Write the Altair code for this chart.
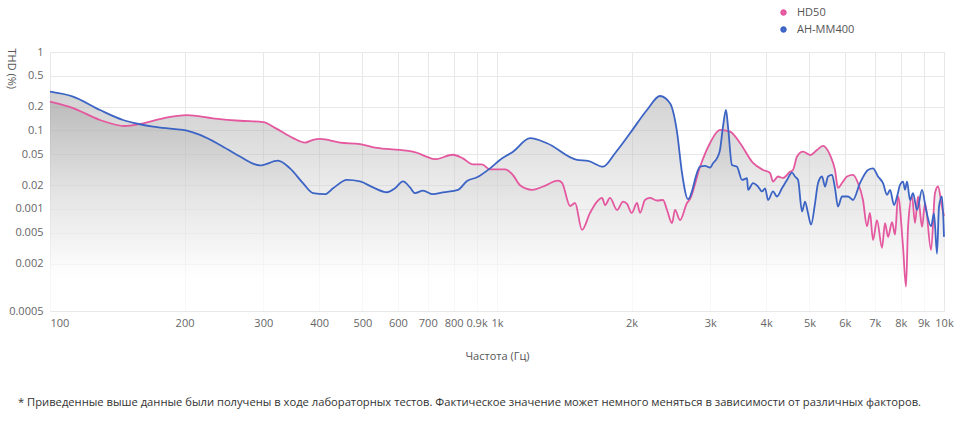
import altair as alt
import pandas as pd

series_names = ["HD50", "AH-MM400"]
series_colors = ["#e4589f", "#3c64c5"]

hd50_freq = [100, 112.6, 129.4, 147, 159, 179, 202.5, 231.5, 266, 300,
             318.7, 349.7, 371.9, 387.6, 401.8, 445.6, 493.9, 539, 606.7, 662,
             697, 726.5, 797, 839, 883, 925, 964.6, 1015, 1042, 1086,
             1126, 1198, 1268, 1369, 1398, 1457, 1495, 1549, 1615, 1674,
             1718, 1745, 1790, 1856, 1914, 1954, 2001, 2057, 2089, 2143,
             2199, 2280, 2352, 2401, 2463, 2502, 2567, 2661, 2703, 2846,
             2997, 3154, 3321, 3496, 3739, 3937, 4081, 4145, 4252, 4363,
             4524, 4594, 4690, 4838, 5015, 5199, 5362, 5559, 5704, 5792,
             5913, 6067, 6257, 6420, 6588, 6725, 6830, 6937, 7081, 7267,
             7380, 7496, 7652, 7771, 7892, 8097, 8222, 8309, 8481, 8613,
             8748, 8931, 9071, 9355, 9548, 9696, 9898, 10000]
hd50_thd = [0.233, 0.193, 0.136, 0.114, 0.121, 0.143, 0.157, 0.143, 0.133, 0.128,
            0.108, 0.080, 0.070, 0.076, 0.078, 0.070, 0.067, 0.060, 0.0565, 0.052,
            0.046, 0.043, 0.049, 0.044, 0.037, 0.037, 0.032, 0.032, 0.032, 0.027,
            0.020, 0.0175, 0.0193, 0.0229, 0.0215, 0.0109, 0.0119, 0.0054, 0.0089, 0.0124,
            0.0138, 0.0112, 0.0138, 0.0097, 0.0124, 0.0116, 0.0089, 0.0119, 0.0089, 0.013,
            0.0138, 0.0128, 0.013, 0.0097, 0.0066, 0.0097, 0.0072, 0.0119, 0.0134, 0.0345,
            0.0693, 0.1015, 0.0967, 0.0693, 0.0385, 0.0314, 0.0287, 0.0223, 0.0259, 0.0248,
            0.0297, 0.0314, 0.0465, 0.0537, 0.0487, 0.0564, 0.0635, 0.0487, 0.0314, 0.0185,
            0.0214, 0.0259, 0.0271, 0.0214, 0.013, 0.006, 0.0089, 0.004, 0.0072, 0.0032,
            0.0066, 0.0044, 0.0068, 0.0047, 0.0144, 0.0033, 0.00102, 0.0059, 0.0144, 0.0066,
            0.0144, 0.0059, 0.0119, 0.003, 0.016, 0.0193, 0.0106, 0.0081]

mm400_freq = [100, 112.6, 129.4, 145.7, 159, 170, 188.4, 202.5, 216.6, 240.1,
              266.1, 295, 323.6, 344.3, 368.1, 387.6, 412.4, 429.7, 461.7, 493.9,
              528, 567.4, 591.3, 616.2, 638.9, 655.5, 683.1, 719.1, 757.1, 817.8,
              856.9, 902.1, 964.6, 1015, 1086, 1186, 1294, 1510, 1598, 1727,
              1837, 1984, 2165, 2316, 2438, 2527, 2594, 2675, 2846, 2920,
              2997, 3043, 3106, 3154, 3203, 3253, 3287, 3355, 3443, 3533,
              3626, 3644, 3739, 3837, 3916, 3979, 4040, 4145, 4230, 4340,
              4454, 4571, 4642, 4715, 4813, 4888, 4964, 5041, 5146, 5226,
              5335, 5418, 5502, 5616, 5704, 5792, 5913, 6099, 6257, 6487,
              6760, 6937, 7118, 7305, 7457, 7573, 7731, 7852, 7974, 8097,
              8181, 8265, 8395, 8525, 8703, 8931, 9118, 9355, 9498, 9646,
              9746, 9898, 10000]
mm400_thd = [0.312, 0.27, 0.182, 0.136, 0.12, 0.112, 0.1045, 0.0995, 0.0877, 0.0654,
             0.0465, 0.0358, 0.0412, 0.0329, 0.0213, 0.0159, 0.0154, 0.0183, 0.0234, 0.0224,
             0.0188, 0.0163, 0.0183, 0.0224, 0.0188, 0.0159, 0.0171, 0.0154, 0.0163, 0.0175,
             0.0227, 0.0253, 0.0329, 0.0421, 0.0537, 0.0797, 0.0687, 0.0421, 0.0409, 0.0345,
             0.0513, 0.092, 0.1825, 0.275, 0.222, 0.0967, 0.0285, 0.0133, 0.0345, 0.0353,
             0.0337, 0.0381, 0.0443, 0.0564, 0.112, 0.1825, 0.112, 0.0363, 0.0345, 0.0234,
             0.0246, 0.0175, 0.0213, 0.0193, 0.0167, 0.0183, 0.013, 0.0167, 0.0144, 0.0183,
             0.0234, 0.029, 0.0259, 0.0234, 0.0093, 0.0124, 0.0088, 0.0063, 0.0118, 0.0213,
             0.0259, 0.0193, 0.0259, 0.0271, 0.0183, 0.0107, 0.0144, 0.0144, 0.013, 0.0213,
             0.0314, 0.0329, 0.0259, 0.0213, 0.0151, 0.0175, 0.0112, 0.0144, 0.0202, 0.0223,
             0.0175, 0.0223, 0.013, 0.0159, 0.0097, 0.0175, 0.0097, 0.006, 0.0088, 0.0027,
             0.0107, 0.0144, 0.0044]

x_ticks = [100, 200, 300, 400, 500, 600, 700, 800, 900, 1000,
           2000, 3000, 4000, 5000, 6000, 7000, 8000, 9000, 10000]
y_ticks = [1, 0.5, 0.2, 0.1, 0.05, 0.02, 0.01, 0.005, 0.002, 0.0005]
y_floor = 0.0005

x_title = "Частота (Гц)"
y_title = "THD (%)"
footnote = ("* Приведенные выше данные были получены в ходе лабораторных тестов. "
            "Фактическое значение может немного меняться в зависимости от различных факторов.")

df = pd.concat([
    pd.DataFrame({"freq": hd50_freq, "thd": hd50_thd, "series": series_names[0]}),
    pd.DataFrame({"freq": mm400_freq, "thd": mm400_thd, "series": series_names[1]}),
], ignore_index=True)

FONT = "Open Sans"

x_enc = alt.X(
    "freq:Q",
    scale=alt.Scale(type="log", domain=[100, 10000], nice=False),
    axis=alt.Axis(
        values=x_ticks,
        labelExpr="datum.value < 900 ? format(datum.value, 'd') : format(datum.value / 1000, '~g') + 'k'",
        title=x_title,
        grid=True, gridColor="#e8e8e8", domain=False, ticks=False,
        labelPadding=6, labelFontSize=11, labelColor="#666",
        labelAlign={"condition": {"test": "datum.value <= 100", "value": "left"}, "value": "center"},
        titleFontSize=11, titleFontWeight="normal", titleColor="#555", titlePadding=22,
    ),
)

y_enc = alt.Y(
    "thd:Q",
    stack=None,
    scale=alt.Scale(type="log", domain=[y_floor, 1], nice=False),
    axis=alt.Axis(
        values=y_ticks,
        labelExpr="abs(datum.value - 0.01) < 1e-9 ? '0.001' : format(datum.value, '~g')",
        title=y_title,
        grid=True, gridColor="#e8e8e8", domain=False, ticks=False,
        labelPadding=7, labelFontSize=11, labelColor="#666",
        titleAngle=90, titleX=-40, titleY=-4, titleAlign="left", titleBaseline="middle",
        titleFontSize=11, titleFontWeight="normal", titleColor="#555",
    ),
)

color_scale = alt.Scale(domain=series_names, range=series_colors)

shade = alt.Gradient(
    gradient="linear",
    stops=[
        alt.GradientStop(color="#9a9a9a", offset=0),
        alt.GradientStop(color="#d8d8d8", offset=0.45),
        alt.GradientStop(color="#ffffff", offset=0.85),
    ],
    x1=1, x2=1, y1=0, y2=1,
)

areas = alt.Chart(df).mark_area(interpolate="monotone", color=shade, opacity=0.45).encode(
    x=x_enc,
    y=y_enc,
    detail="series:N",
)

lines = alt.Chart(df).mark_line(interpolate="monotone", strokeWidth=1.8).encode(
    x=x_enc,
    y=y_enc,
    color=alt.Color(
        "series:N",
        scale=color_scale,
        legend=alt.Legend(
            orient="none", legendX=728, legendY=-45, title=None,
            symbolType="circle", symbolSize=12, symbolStrokeWidth=3,
            labelFontSize=11, labelColor="#555", labelOffset=8, rowPadding=0,
        ),
    ),
    order="freq:Q",
)

chart = alt.layer(areas, lines).properties(
    width=894,
    height=259,
    autosize=alt.AutoSizeParams(type="none"),
    padding={"left": 50, "top": 52, "right": 16, "bottom": 131},
    title=alt.TitleParams(
        text=footnote, orient="bottom", anchor="start", frame="group",
        dx=-32, offset=36, fontSize=11.2, fontWeight="normal", color="#333", font=FONT,
    ),
).configure(font=FONT).configure_view(stroke=None)

chart.save("out.html", embed_options={"renderer": "svg", "actions": False})
